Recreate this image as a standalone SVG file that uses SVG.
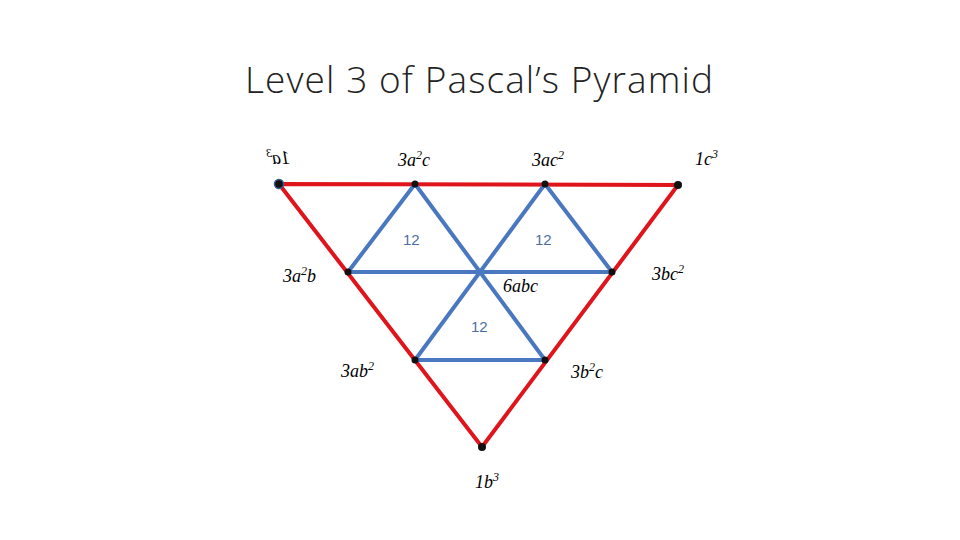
<svg xmlns="http://www.w3.org/2000/svg" width="960" height="540" viewBox="0 0 960 540">
<style>
.t{font-family:"Open Sans","Liberation Sans",sans-serif;font-weight:300;font-size:37px;fill:#222}
.m{font-family:"Liberation Serif",serif;font-style:italic;font-size:18px;fill:#000}
.n{font-family:"Liberation Sans",sans-serif;font-size:15px;fill:#4a6fa5}
.r{stroke:#e0141b;stroke-width:4;fill:none}
.b{stroke:#4a78c0;stroke-width:4;fill:none}
.d{fill:#111}
</style>
<rect width="960" height="540" fill="#fff"/>
<text class="t" x="479" y="93" text-anchor="middle" textLength="468">Level 3 of Pascal’s Pyramid</text>
<g id="connectors">
<polygon class="r" points="279,184 678,185 482,447"/>
<path class="b" d="M348,272H612M415,360H545M415,184L348,272M415,184L545,360M545,184L415,360M545,184L612,272"/>
</g>
<g id="dots">
<circle class="d" cx="279" cy="184" r="4.5" stroke="#3a5a8a" stroke-width="1.5"/>
<circle class="d" cx="678" cy="185" r="4"/>
<circle class="d" cx="482" cy="447" r="4"/>
<circle class="d" cx="415" cy="184" r="3.5"/>
<circle class="d" cx="545" cy="184" r="3.5"/>
<circle class="d" cx="348" cy="272" r="3.5"/>
<circle class="d" cx="612" cy="272" r="3.5"/>
<circle class="d" cx="415" cy="360" r="3.5"/>
<circle class="d" cx="545" cy="360" r="3.5"/>
</g>
<g id="labels">
<text class="m" transform="translate(290,164) scale(-1,1)">1a<tspan dy="-7" font-size="12">3</tspan></text>
<text class="m" x="398" y="166">3a<tspan dy="-7" font-size="12">2</tspan><tspan dy="7">c</tspan></text>
<text class="m" x="532" y="166">3ac<tspan dy="-7" font-size="12">2</tspan></text>
<text class="m" x="695" y="165">1c<tspan dy="-7" font-size="12">3</tspan></text>
<text class="m" x="283" y="282">3a<tspan dy="-7" font-size="12">2</tspan><tspan dy="7">b</tspan></text>
<text class="m" x="652" y="280">3bc<tspan dy="-7" font-size="12">2</tspan></text>
<text class="m" x="503" y="292">6abc</text>
<text class="m" x="341" y="377">3ab<tspan dy="-7" font-size="12">2</tspan></text>
<text class="m" x="571" y="378">3b<tspan dy="-7" font-size="12">2</tspan><tspan dy="7">c</tspan></text>
<text class="m" x="475" y="488">1b<tspan dy="-7" font-size="12">3</tspan></text>
<text class="n" x="403" y="245">12</text>
<text class="n" x="535" y="245">12</text>
<text class="n" x="471" y="332">12</text>
</g>
</svg>
